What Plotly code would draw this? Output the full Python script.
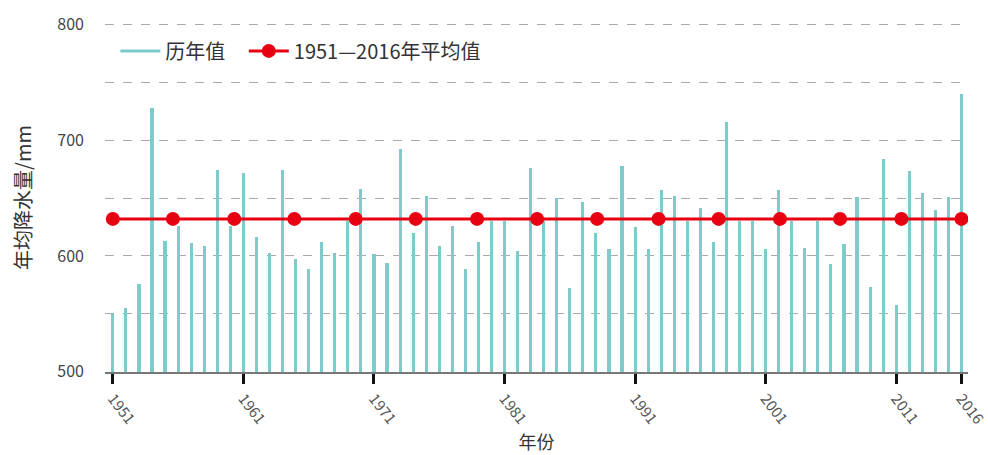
import plotly.graph_objects as go

years = list(range(1951, 2017))
values = [550, 555, 576, 728, 613, 626, 611, 609, 674, 626,
          672, 616, 603, 674, 597, 589, 612, 603, 630, 658,
          602, 594, 692, 620, 652, 609, 626, 589, 612, 630,
          630, 604, 676, 630, 650, 572, 647, 620, 606, 678,
          625, 606, 657, 652, 630, 641, 612, 716, 630, 630,
          606, 657, 630, 607, 630, 593, 610, 651, 573, 684,
          558, 673, 654, 640, 651, 740]
mean_x = [1951, 1955.6, 1960.3, 1964.9, 1969.6, 1974.2, 1978.9, 1983.5,
          1988.1, 1992.8, 1997.4, 2002.1, 2006.7, 2011.4, 2016]
mean_value = 632
mean_y = [mean_value] * len(mean_x)
x_tickvals = [1951, 1961, 1971, 1981, 1991, 2001, 2011, 2016]
y_tickvals = [500, 550, 600, 650, 700, 750, 800]
y_ticktext = ["500", "", "600", "", "700", "", "800"]

FONT = "Noto Sans CJK SC, Noto Sans, sans-serif"
TEAL = "#7ecbcb"
RED = "#e60012"

fig = go.Figure()
fig.add_trace(go.Bar(
    x=years, y=values, name="历年值", showlegend=False,
    marker=dict(color=TEAL, line=dict(width=0)),
    width=0.24,
))
# legend entry for the bars, drawn as a line like the reference
fig.add_trace(go.Scatter(
    x=[None], y=[None], name="历年值\u00a0\u00a0\u00a0", mode="lines",
    line=dict(color=TEAL, width=3),
))
fig.add_trace(go.Scatter(
    x=mean_x, y=mean_y, name="1951—2016年平均值",
    mode="lines+markers",
    line=dict(color=RED, width=3),
    marker=dict(color=RED, size=14),
))

fig.update_layout(
    width=988, height=455,
    margin=dict(l=105, r=20, t=23, b=83),
    paper_bgcolor="white", plot_bgcolor="white",
    font=dict(family=FONT, color="#333", size=14),
    showlegend=True,
    legend=dict(orientation="h", x=0.012, y=0.92, xanchor="left", yanchor="middle",
                font=dict(size=20, color="#333"), bgcolor="rgba(0,0,0,0)",
                itemwidth=40, tracegroupgap=0),
    bargap=0,
)
fig.update_xaxes(
    range=[1950.4, 2016.5],
    tickvals=x_tickvals, ticktext=[str(v) for v in x_tickvals],
    tickangle=52, ticks="outside", ticklen=10, tickwidth=3, tickcolor="#111",
    showline=True, linecolor="#777", linewidth=2,
    showgrid=False, zeroline=False, automargin=False,
    ticklabeloverflow="allow",
    tickfont=dict(size=15, color="#555"),
    title=dict(text="年份", font=dict(size=18, color="#333"), standoff=4),
)
fig.update_yaxes(
    range=[499.9, 801],
    tickvals=y_tickvals, ticktext=y_ticktext,
    showgrid=True, gridcolor="#aaaaaa", griddash="dash", gridwidth=1,
    showline=False, zeroline=False, ticks="", automargin=False,
    tickfont=dict(size=16, color="#444"),
    ticklabelstandoff=20,
    title=dict(text="年均降水量/mm", font=dict(size=20, color="#333"), standoff=20),
)

fig.write_html("out.html", config={"displayModeBar": False})

with open("out.html", encoding="utf-8") as f:
    html = f.read()
html = html.replace("<body>", '<body style="margin:0;padding:0;">', 1)
with open("out.html", "w", encoding="utf-8") as f:
    f.write(html)
